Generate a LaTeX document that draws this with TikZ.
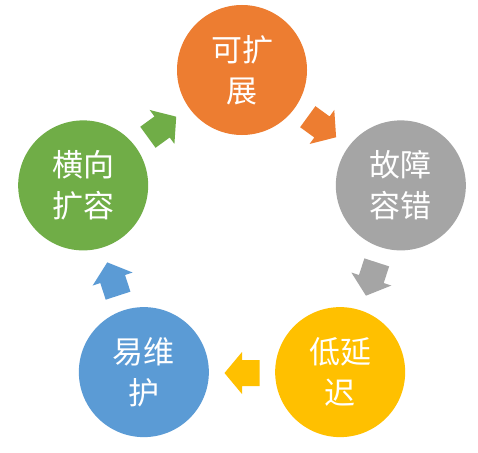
\documentclass[tikz,border=0pt]{standalone}
\usepackage{fontspec}
\usetikzlibrary{calc}
\newfontfamily\cjk{Noto Sans CJK SC}
\definecolor{cOrange}{HTML}{ED7D31}
\definecolor{cGray}{HTML}{A5A5A5}
\definecolor{cYellow}{HTML}{FFC000}
\definecolor{cBlue}{HTML}{5B9BD5}
\definecolor{cGreen}{HTML}{70AD47}
\tikzset{
  bubble/.style={circle, fill=#1, minimum size=130pt, inner sep=0pt, text=white,
    align=center, font=\cjk\fontsize{31}{41}\selectfont},
}
\newcommand\blockarrow[3]{%
  \path (C) ++(#2:136) coordinate (#3);
  \fill[#1, shift={(#3)}, rotate=#2-90]
    (-17.5,-13) -- (0,-13) -- (0,-21) -- (17.5,0) -- (0,21) -- (0,13) -- (-17.5,13) -- cycle;}
\begin{document}
\begin{tikzpicture}[x=1pt, y=1pt]
\useasboundingbox (0,0) rectangle (478,-452);
\fill[white] (0,0) rectangle (478,-452);
\coordinate (C) at (242,-237);
\node[bubble=cOrange] (o) at ($(C)+(90:167)$) {可扩\\展};
\node[bubble=cGray]   (g) at ($(C)+(18:167)$) {故障\\容错};
\node[bubble=cYellow] (y) at ($(C)+(-54:167)$) {低延\\迟};
\node[bubble=cBlue]   (b) at ($(C)+(-126:167)$) {易维\\护};
\node[bubble=cGreen]  (gr) at ($(C)+(162:167)$) {横向\\扩容};
\blockarrow{cOrange}{54}{a1}
\blockarrow{cGray}{-18}{a2}
\blockarrow{cYellow}{-90}{a3}
\blockarrow{cBlue}{-162}{a4}
\blockarrow{cGreen}{126}{a5}
\end{tikzpicture}
\end{document}
